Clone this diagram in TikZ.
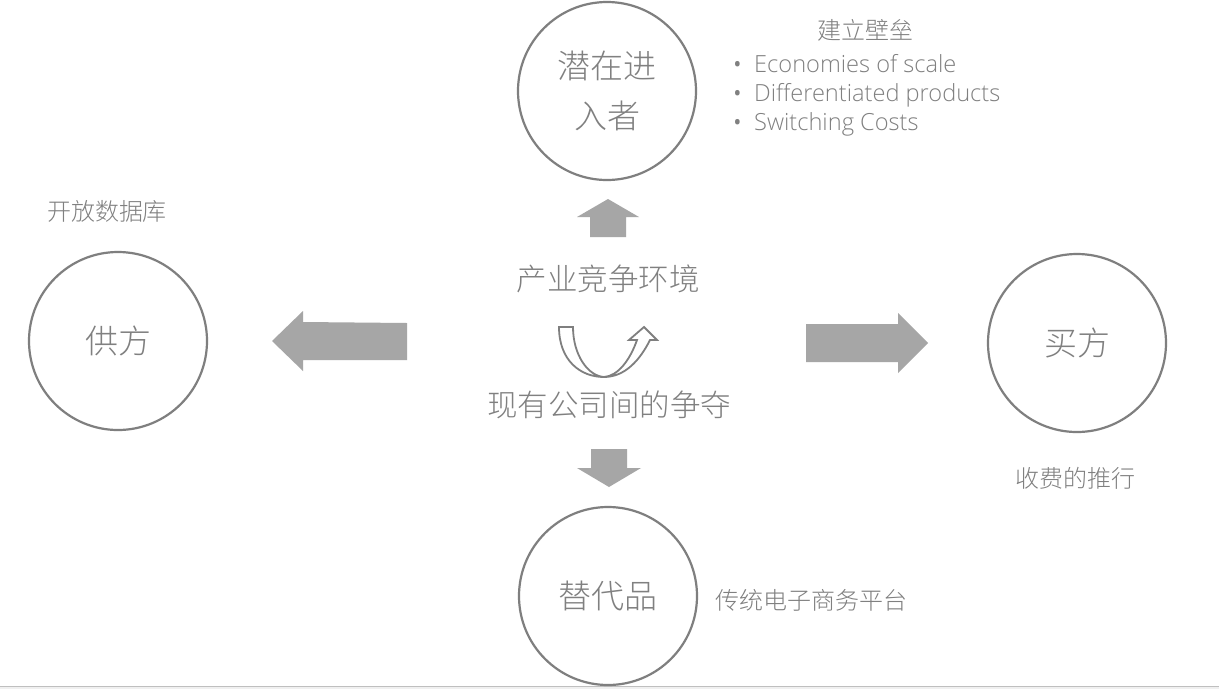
\documentclass[tikz,border=0pt]{standalone}
\usepackage{fontspec}
\IfFontExistsTF{Open Sans Light}{\setmainfont{Open Sans Light}}{\setmainfont{Open Sans}}
\IfFontExistsTF{Noto Sans CJK SC Light}{\newfontfamily\cjk{Noto Sans CJK SC Light}}{\newfontfamily\cjk{Noto Sans CJK SC}}
\newcommand{\mybul}{\raisebox{-2.5pt}{\fontsize{31}{29}\selectfont\textbullet}\hspace{11pt}}
\begin{document}
\begin{tikzpicture}[x=1pt,y=-1pt,
  ring/.style={draw=ringgray,line width=2.2pt,circle,minimum size=178pt,inner sep=0pt},
  big/.style={text=txtgray,font=\cjk\fontsize{33}{50}\selectfont,align=center},
  mid/.style={text=txtgray,font=\cjk\fontsize{30.5}{36}\selectfont},
  small/.style={text=txtgray,font=\cjk\fontsize{24}{28}\selectfont},
  blockarrow/.style={fill=arrowgray,draw=none}]
\definecolor{ringgray}{HTML}{7F7F7F}
\definecolor{txtgray}{HTML}{808080}
\definecolor{arrowgray}{HTML}{A6A6A6}
\useasboundingbox (0,0) rectangle (1219,689);
\fill[white] (0,0) rectangle (1219,689);
\fill[black!6] (0,686) rectangle (1219,689);
\draw[black!25,line width=1pt] (0,686) -- (1219,686);

% circles
\node[ring] (entrant) at (607,91) {};
\node[ring] (supplier) at (118,341) {};
\node[ring] (buyer) at (1077,343) {};
\node[ring] (subst) at (608,596) {};
\node[big] (entranttxt) at (entrant) {潜在进\\入者};
\node[big] at (supplier) {供方};
\node[big] at (buyer) {买方};
\node[big] at (subst) {替代品};

% center texts
\node[mid] (env) at (608,279) {产业竞争环境};
\node[mid] (rival) at (609,405) {现有公司间的争夺};

% side notes
\node[small] (open) at (107,211) {开放数据库};
\node[small] (fee) at (1075,478) {收费的推行};
\node[small,anchor=west] (ecom) at (712,600) {传统电子商务平台};
\node[small] (barrier) at (865,30) {建立壁垒};
\node[text=txtgray,anchor=north west,font=\fontsize{23.6}{29}\selectfont,align=left] (bullets) at (728,51)
  {\mybul Economies of scale\\
   \mybul Differentiated products\\
   \mybul Switching Costs};

% block arrows
\fill[blockarrow] (590,237) -- (590,217) -- (577,217) -- (608,199) -- (639,217) -- (626,217) -- (626,237) -- cycle;
\fill[blockarrow] (591,449) -- (591,468) -- (577,468) -- (609,487) -- (641,468) -- (627,468) -- (627,449) -- cycle;
\fill[blockarrow] (806,324) -- (898,324) -- (898,313) -- (928,343) -- (898,373) -- (898,362) -- (806,362) -- cycle;
\fill[blockarrow] (407,323) -- (303,322) -- (303,311) -- (272,341) -- (303,371) -- (303,360) -- (407,360) -- cycle;

% U-turn arrow
\draw[ringgray,line width=1.8pt,line join=miter]
  (559,327) .. controls (559,360) and (580,377) .. (604,377)
  .. controls (625,377) and (640,360) .. (650,340)
  -- (657,340) -- (644,327) -- (629,340) -- (637,340)
  .. controls (630,360) and (618,376) .. (604,377)
  .. controls (588,376) and (573,355) .. (573,327) -- cycle;
\end{tikzpicture}
\end{document}
